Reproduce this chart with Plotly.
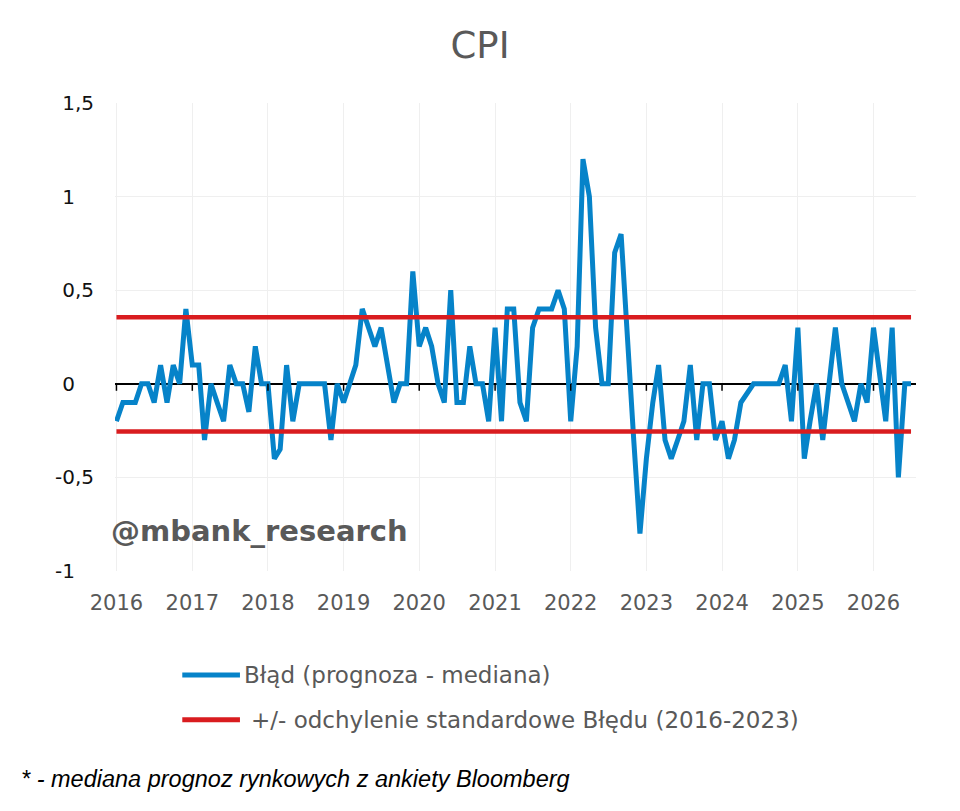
import pandas as pd
import plotly.graph_objects as go

# Blad prognozy CPI (prognoza - mediana), dane miesieczne od 01.2016
err_2016 = [-0.2, -0.1, -0.1, -0.1, 0.0, 0.0, -0.1, 0.1, -0.1, 0.1, 0.0, 0.4]
err_2017 = [0.1, 0.1, -0.3, 0.0, -0.1, -0.2, 0.1, 0.0, 0.0, -0.15, 0.2, 0.0]
err_2018 = [0.0, -0.4, -0.35, 0.1, -0.2, 0.0, 0.0, 0.0, 0.0, 0.0, -0.3, 0.0]
err_2019 = [-0.1, 0.0, 0.1, 0.4, 0.3, 0.2, 0.3, 0.1, -0.1, 0.0, 0.0, 0.6]
err_2020 = [0.2, 0.3, 0.2, 0.0, -0.1, 0.5, -0.1, -0.1, 0.2, 0.0, 0.0, -0.2]
err_2021 = [0.3, -0.2, 0.4, 0.4, -0.1, -0.2, 0.3, 0.4, 0.4, 0.4, 0.5, 0.4]
err_2022 = [-0.2, 0.2, 1.2, 1.0, 0.3, 0.0, 0.0, 0.7, 0.8, 0.2, -0.3, -0.8]
err_2023 = [-0.4, -0.1, 0.1, -0.3, -0.4, -0.3, -0.2, 0.1, -0.3, 0.0, 0.0, -0.3]
err_2024 = [-0.2, -0.4, -0.3, -0.1, -0.05, 0.0, 0.0, 0.0, 0.0, 0.0, 0.1, -0.2]
err_2025 = [0.3, -0.4, -0.2, 0.0, -0.3, 0.0, 0.3, 0.0, -0.1, -0.2, 0.0, -0.1]
err_2026 = [0.3, 0.05, -0.2, 0.3, -0.5, 0.0, 0.0]

errors = (err_2016 + err_2017 + err_2018 + err_2019 + err_2020 + err_2021
          + err_2022 + err_2023 + err_2024 + err_2025 + err_2026)
months = pd.date_range("2016-01-01", periods=len(errors), freq="MS")

# +/- odchylenie standardowe (2016-2023)
std_upper = 0.355
std_lower = -0.255

years = list(range(2016, 2027))
y_ticks = [-1, -0.5, 0, 0.5, 1, 1.5]
y_labels = ["-1\u2008\u2007", "-0,5", "0\u2008\u2007", "0,5", "1\u2008\u2007", "1,5"]

name_err = "Błąd (prognoza - mediana)"
name_std = "+/- odchylenie standardowe Błędu (2016-2023)"
footnote = "* - mediana prognoz rynkowych z ankiety Bloomberg"

BLUE = "#0683c9"
RED = "#d91c1f"
GREY = "#595959"
FONT = "DejaVu Sans"

fig = go.Figure()

fig.add_trace(go.Scatter(
    x=months, y=errors, mode="lines", name=name_err,
    line=dict(color=BLUE, width=5)))

fig.add_trace(go.Scatter(
    x=[months[0], months[-1], None, months[0], months[-1]],
    y=[std_upper, std_upper, None, std_lower, std_lower],
    mode="lines", name=name_std,
    line=dict(color=RED, width=4.5)))

# small year ticks hanging off the zero line
shapes = []
for yr in years:
    shapes.append(dict(
        type="line", xref="x", yref="y",
        x0=f"{yr}-01-01", x1=f"{yr}-01-01",
        ysizemode="pixel", yanchor=0, y0=0, y1=-7,
        line=dict(color="black", width=1.5)))

# hand-made legend (longer line samples than plotly's own)
shapes.append(dict(type="line", xref="paper", yref="paper",
                   x0=0.084, x1=0.156, y0=-0.222, y1=-0.222,
                   line=dict(color=BLUE, width=5)))
shapes.append(dict(type="line", xref="paper", yref="paper",
                   x0=0.084, x1=0.156, y0=-0.318, y1=-0.318,
                   line=dict(color=RED, width=5)))

annotations = [
    dict(text=name_err, xref="paper", yref="paper", x=0.158, y=-0.222,
         xanchor="left", yanchor="middle", showarrow=False,
         font=dict(family=FONT, size=23, color=GREY)),
    dict(text=name_std, xref="paper", yref="paper", x=0.167, y=-0.318,
         xanchor="left", yanchor="middle", showarrow=False,
         font=dict(family=FONT, size=23, color=GREY)),
    dict(text="<i>" + footnote + "</i>", xref="paper", yref="paper",
         x=-0.12, y=-0.444, xanchor="left", yanchor="middle", showarrow=False,
         font=dict(family="Liberation Sans", size=23.5, color="black")),
    dict(text="<b>@mbank_research</b>", xref="paper", yref="paper",
         x=-0.007, y=0.085, xanchor="left", yanchor="middle", showarrow=False,
         font=dict(family=FONT, size=29, color=GREY)),
]

fig.update_layout(
    width=960, height=811,
    margin=dict(l=107, r=52, t=95, b=248),
    paper_bgcolor="white", plot_bgcolor="white",
    showlegend=False,
    title=dict(text="CPI", x=0.4917, xanchor="center", y=0.954, yanchor="middle",
               font=dict(family=FONT, size=37, color=GREY)),
    xaxis=dict(
        type="date", range=["2015-12-25", "2026-07-25"],
        tickvals=[f"{yr}-01-01" for yr in years],
        ticktext=[str(yr) for yr in years],
        showgrid=True, gridcolor="#efefef", gridwidth=1,
        zeroline=False, showline=False, ticks="",
        ticklabelstandoff=17,
        tickfont=dict(family=FONT, size=21, color=GREY)),
    yaxis=dict(
        range=[-1, 1.5], tickvals=y_ticks, ticktext=y_labels,
        showgrid=True, gridcolor="#efefef", gridwidth=1,
        zeroline=True, zerolinecolor="black", zerolinewidth=1.5,
        showline=False, ticks="",
        ticklabelstandoff=20,
        tickfont=dict(family=FONT, size=20, color="#111111")),
    shapes=shapes,
    annotations=annotations,
)

fig.write_html("out.html")
